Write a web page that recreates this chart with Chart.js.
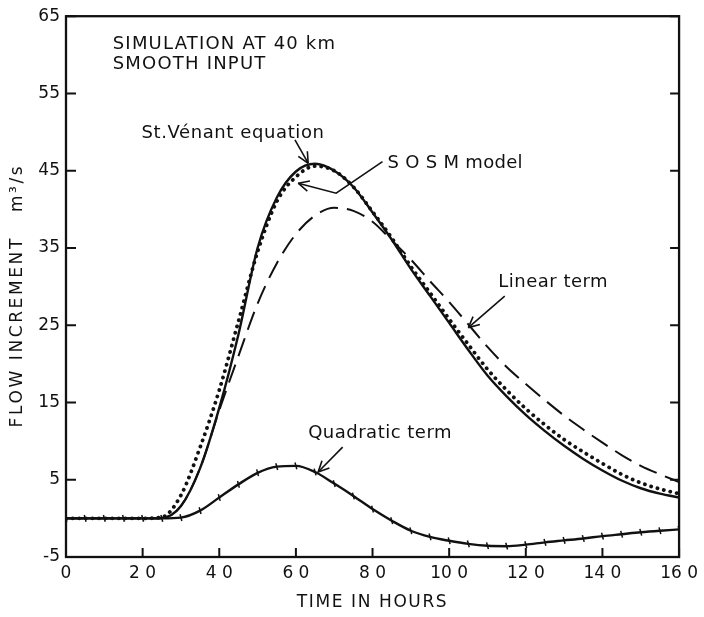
<!DOCTYPE html>
<html lang="en">
<head>
<meta charset="UTF-8">
<script src="https://cdn.jsdelivr.net/npm/chart.js"></script>
<style>
    html, body { margin: 0; padding: 0; background: #fff; }
    .container { width: 704px; height: 617px; }
</style>
</head>
<body>
<div class="container">
    <canvas id="flowChart" width="704" height="617"></canvas>
</div>
<script>
    // time in hours
    const hours = [0, 5, 10, 15, 20, 25, 30, 35, 40, 45, 50, 55, 60, 65, 70, 75, 80,
        85, 90, 95, 100, 105, 110, 115, 120, 125, 130, 135, 140, 145, 150, 155, 160];

    // flow increment m3/s
    const stVenant = [0, 0, 0, 0, 0, 0.05, 1.6, 6.5, 14.3, 23.8, 35.0, 41.5, 44.9, 45.9, 45.0, 42.9, 39.6,
        36.1, 32.3, 28.8, 25.3, 21.8, 18.5, 15.8, 13.4, 11.3, 9.4, 7.7, 6.2, 4.9, 3.9, 3.2, 2.7];
    const sosm = [0, 0, 0, 0, 0, 0.15, 3.0, 9.2, 16.6, 25.5, 34.5, 41.0, 44.2, 45.6, 45.0, 42.9, 39.7,
        36.3, 32.6, 29.2, 25.8, 22.5, 19.3, 16.6, 14.2, 12.1, 10.2, 8.6, 7.1, 5.7, 4.6, 3.8, 3.2];
    const linearTerm = [0, 0, 0, 0, 0, 0.05, 1.6, 6.5, 14.0, 21.0, 27.8, 33.0, 36.8, 39.2, 40.2, 39.8, 38.4,
        36.0, 33.5, 30.7, 28.0, 25.1, 22.2, 19.6, 17.4, 15.3, 13.3, 11.5, 9.8, 8.2, 6.8, 5.7, 4.7];
    const quadraticTerm = [0, 0, 0, 0, 0, 0, 0.1, 1.0, 2.7, 4.4, 5.9, 6.7, 6.8, 6.0, 4.5, 2.9, 1.2,
        -0.3, -1.6, -2.4, -2.9, -3.3, -3.55, -3.6, -3.4, -3.1, -2.85, -2.6, -2.3, -2.05, -1.8, -1.6, -1.43];

    const xTickValues = [0, 20, 40, 60, 80, 100, 120, 140, 160];
    const yTickValues = [-5, 5, 15, 25, 35, 45, 55, 65];

    const labelFont = '"DejaVu Sans", sans-serif';

    function toPoints(values) {
        return hours.map((h, i) => ({ x: h, y: values[i] }));
    }

    // labels and arrows in data coordinates
    const notes = [
        { text: 'SIMULATION AT 40 km', t: 12.2, v: 61.4, spacing: 1.2 },
        { text: 'SMOOTH INPUT', t: 12.2, v: 58.8, spacing: 1.2 },
        { text: 'St.Vénant equation', t: 19.7, v: 49.8, spacing: 0.6 },
        { text: 'S O S M model', t: 83.9, v: 46.0, spacing: 0.3 },
        { text: 'Linear term', t: 112.8, v: 30.5, spacing: 0.5 },
        { text: 'Quadratic term', t: 63.2, v: 11.0, spacing: 0.5 }
    ];
    const arrows = [
        [[59.75, 48.98], [63.2, 45.97]],
        [[82.6, 46.18], [70.5, 42.09], [60.6, 43.38]],
        [[114.5, 28.78], [105.0, 24.69]],
        [[72.2, 9.22], [65.8, 6.0]]
    ];

    const framePlugin = {
        id: 'frame',
        afterDatasetsDraw(chart) {
            const { ctx, chartArea: a, scales: { x, y } } = chart;
            ctx.save();
            ctx.strokeStyle = '#111';
            ctx.lineWidth = 2.3;
            ctx.strokeRect(a.left, a.top, a.right - a.left, a.bottom - a.top);

            // inward tick marks
            ctx.lineWidth = 2;
            ctx.beginPath();
            yTickValues.forEach(v => {
                const py = y.getPixelForValue(v);
                ctx.moveTo(a.left, py); ctx.lineTo(a.left + 10, py);
                ctx.moveTo(a.right, py); ctx.lineTo(a.right - 9, py);
            });
            xTickValues.forEach(v => {
                const px = x.getPixelForValue(v);
                ctx.moveTo(px, a.bottom); ctx.lineTo(px, a.bottom - 9);
            });
            ctx.stroke();

            // arrows
            ctx.lineWidth = 1.6;
            arrows.forEach(pts => {
                const p = pts.map(q => [x.getPixelForValue(q[0]), y.getPixelForValue(q[1])]);
                ctx.beginPath();
                ctx.moveTo(p[0][0], p[0][1]);
                for (let i = 1; i < p.length; i++) ctx.lineTo(p[i][0], p[i][1]);
                ctx.stroke();
                const [ex, ey] = p[p.length - 1];
                const [sx, sy] = p[p.length - 2];
                const ang = Math.atan2(ey - sy, ex - sx);
                ctx.beginPath();
                [-0.45, 0.45].forEach(d => {
                    ctx.moveTo(ex, ey);
                    ctx.lineTo(ex - 12 * Math.cos(ang + d), ey - 12 * Math.sin(ang + d));
                });
                ctx.stroke();
            });

            // text
            ctx.fillStyle = '#111';
            ctx.font = '18px ' + labelFont;
            ctx.textBaseline = 'middle';
            ctx.textAlign = 'left';
            notes.forEach(n => {
                ctx.letterSpacing = n.spacing + 'px';
                ctx.fillText(n.text, x.getPixelForValue(n.t), y.getPixelForValue(n.v));
            });

            // axis titles, spaced out like the lettering in the figure
            ctx.font = '17px ' + labelFont;
            ctx.textAlign = 'center';
            ctx.letterSpacing = '1.6px';
            ctx.fillText('TIME IN HOURS', (a.left + a.right) / 2, 603);
            ctx.translate(18, (a.top + a.bottom) / 2 + 9);
            ctx.rotate(-Math.PI / 2);
            ctx.letterSpacing = '2.6px';
            ctx.fillText('FLOW INCREMENT   m³/s', 0, 0);
            ctx.restore();
        }
    };

    new Chart(document.getElementById('flowChart'), {
        type: 'line',
        data: {
            datasets: [{
                label: 'St. Vénant equation',
                data: toPoints(stVenant),
                borderColor: '#111',
                borderWidth: 2.4,
                pointRadius: 0,
                cubicInterpolationMode: 'monotone'
            }, {
                label: 'SOSM model',
                data: toPoints(sosm),
                borderColor: '#111',
                borderWidth: 3.8,
                borderDash: [0.1, 6.5],
                borderCapStyle: 'round',
                pointRadius: 0,
                cubicInterpolationMode: 'monotone'
            }, {
                label: 'Linear term',
                data: toPoints(linearTerm),
                borderColor: '#111',
                borderWidth: 2,
                borderDash: [19, 9],
                pointRadius: 0,
                cubicInterpolationMode: 'monotone'
            }, {
                label: 'Quadratic term',
                data: toPoints(quadraticTerm),
                borderColor: '#111',
                borderWidth: 2.4,
                pointStyle: 'line',
                pointRadius: 3.5,
                pointRotation: 75,
                pointBorderWidth: 1.5,
                pointBorderColor: '#111',
                cubicInterpolationMode: 'monotone'
            }]
        },
        options: {
            responsive: false,
            animation: false,
            layout: { padding: { top: 14, right: 20, left: 0, bottom: 0 } },
            plugins: {
                legend: { display: false },
                tooltip: { enabled: false }
            },
            scales: {
                x: {
                    type: 'linear',
                    min: 0,
                    max: 160,
                    afterFit: s => { s.height = 60; },
                    afterBuildTicks: s => { s.ticks = xTickValues.map(v => ({ value: v })); },
                    grid: { display: false, drawTicks: false },
                    border: { display: false },
                    ticks: {
                        autoSkip: false,
                        maxRotation: 0,
                        padding: 6,
                        color: '#111',
                        font: { family: labelFont, size: 17 },
                        callback: v => {
                            const s = String(v);
                            return v === 0 ? s : s.slice(0, -1) + ' ' + s.slice(-1);
                        }
                    }
                },
                y: {
                    min: -5,
                    max: 65,
                    afterFit: s => { s.width = 66; },
                    afterBuildTicks: s => { s.ticks = yTickValues.map(v => ({ value: v })); },
                    grid: { display: false, drawTicks: false },
                    border: { display: false },
                    ticks: {
                        padding: 6,
                        color: '#111',
                        font: { family: labelFont, size: 17 }
                    }
                }
            }
        },
        plugins: [framePlugin]
    });
</script>
</body>
</html>
